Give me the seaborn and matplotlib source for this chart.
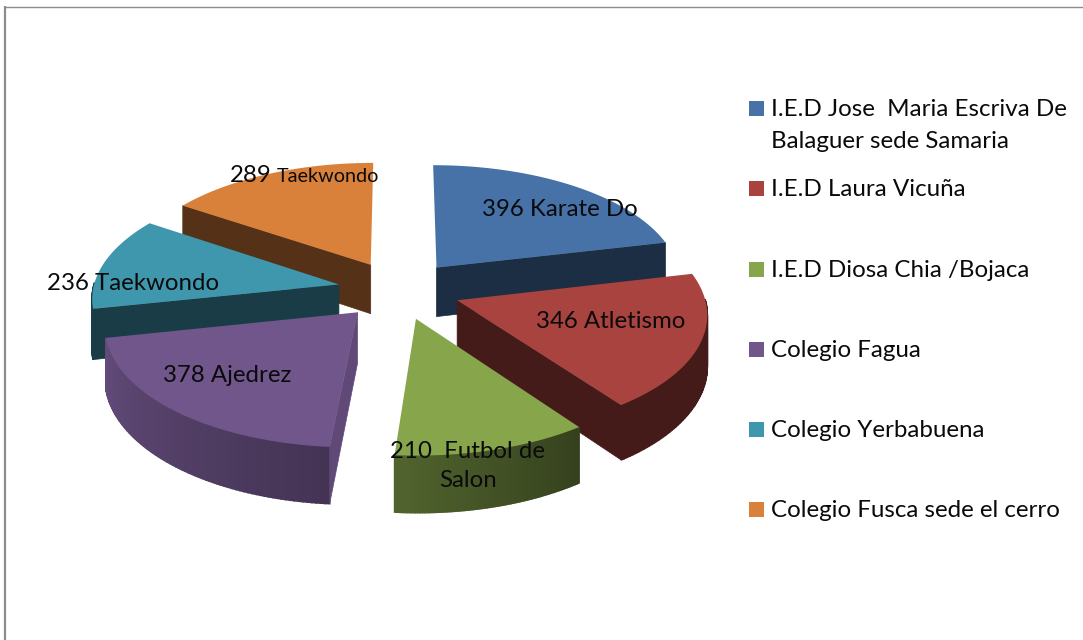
import numpy as np
import matplotlib
matplotlib.use("Agg")
import matplotlib.pyplot as plt
from matplotlib.patches import Rectangle
import seaborn as sns

schools = ["I.E.D Jose  Maria Escriva De\nBalaguer sede Samaria", "I.E.D Laura Vicuña", "I.E.D Diosa Chia /Bojaca",
           "Colegio Fagua", "Colegio Yerbabuena", "Colegio Fusca sede el cerro"]
values = [396, 346, 210, 378, 236, 289]
sports = ["Karate Do", "Atletismo", " Futbol de\nSalon", "Ajedrez", "Taekwondo", "Taekwondo"]
colors = ["#4672A8", "#A9433F", "#87A64C", "#71568C", "#3F97AE", "#D9813B"]

sns.set_theme(style="white")
plt.rcParams["font.family"] = ["Lato", "DejaVu Sans"]
palette = sns.color_palette(colors)

fig = plt.figure(figsize=(10.83, 6.40), dpi=100)
ax = fig.add_axes([0, 0, 1, 1])
ax.set_xlim(0, 1083); ax.set_ylim(640, 0); ax.axis("off")

CX, CY, R, K, P, D, E = 399, 290, 246, 0.475, 0.10, 50, 0.25

def proj(X, Y, down=0.0):
    w = 1 / (1 + P * Y)
    return CX + R * X * w, CY - R * K * Y * w + down * w

def shade(c, f):
    return tuple(min(1, v * f) for v in c)

fractions = np.array(values) / sum(values)
ends = 90 - 360 * np.cumsum(fractions)
starts = np.r_[90, ends[:-1]]
cut_shade = [0.40, 0.41, 0.45, 0.85, 0.40, 0.39]
rim_start = [0.40, 0.41, 0.39, 0.60, 0.40, 0.39]
rim_end = [0.40, 0.41, 0.60, 0.87, 0.40, 0.39]

for i in [0, 5, 4, 1, 3, 2]:
    a0, a1 = np.radians(starts[i]), np.radians(ends[i])
    mid = (a0 + a1) / 2
    ox, oy = E * np.cos(mid), E * np.sin(mid)
    th = np.linspace(a0, a1, 80)
    x = ox + np.cos(th); y = oy + np.sin(th)
    c = palette[i]
    # outer rim, front-facing part only
    for j in range(len(th) - 1):
        if np.sin(th[j:j + 2]).max() > 0.02:
            continue
        xs = x[j:j + 2]; ys = y[j:j + 2]
        t = proj(xs, ys); b = proj(xs, ys, D)
        f = rim_start[i] + (rim_end[i] - rim_start[i]) * j / (len(th) - 2)
        ax.fill(np.r_[t[0], b[0][::-1]], np.r_[t[1], b[1][::-1]], color=shade(c, f), lw=1.2, zorder=2)
    # radial cut faces, only those turned to the viewer
    for a, ny in ((a0, np.cos(a0)), (a1, -np.cos(a1))):
        if ny >= -0.01:
            continue
        px, py = np.array([ox, ox + np.cos(a)]), np.array([oy, oy + np.sin(a)])
        t = proj(px, py); b = proj(px, py, D)
        ax.fill(np.r_[t[0], b[0][::-1]], np.r_[t[1], b[1][::-1]], color=shade(c, cut_shade[i]), lw=0.5, zorder=2)
    # top face
    t = proj(np.r_[ox, x], np.r_[oy, y])
    ax.fill(t[0], t[1], color=c, lw=0, zorder=2)

# data labels
label_xy = [(560, 210), (611, 322), (468, 466), (227, 376), (133, 284), (304, 176)]
for (lx, ly), v, s, n in zip(label_xy, values, sports, range(6)):
    if n == 5:
        ax.text(lx - 74, ly, f"{v}", fontsize=17.3, color="#0a0a0a", va="center", ha="left", zorder=5)
        ax.text(lx - 27, ly + 1, s, fontsize=14.3, color="#0a0a0a", va="center", ha="left", zorder=5)
    else:
        ax.text(lx, ly, f"{v} {s}", fontsize=17.3, color="#0a0a0a", ha="center", va="center",
                linespacing=1.5, zorder=5)

# legend
legend_y = [108.5, 188.5, 269, 349, 429, 509]
for y, s, c in zip(legend_y, schools, palette):
    ax.add_patch(Rectangle((749, y - 7.5), 15, 15, color=c, lw=0))
    ax.text(771, y - 9, s, fontsize=17.4, color="#0a0a0a", va="top", ha="left", linespacing=1.62)

# chart frame
ax.plot([5.2, 5.2], [640, 6], color="#8c8c8c", lw=1.6, solid_capstyle="butt", clip_on=False)
ax.plot([4, 1083], [6.5, 6.5], color="#8c8c8c", lw=1.0, solid_capstyle="butt", clip_on=False)

fig.savefig("out.png", dpi=100, facecolor="white")
